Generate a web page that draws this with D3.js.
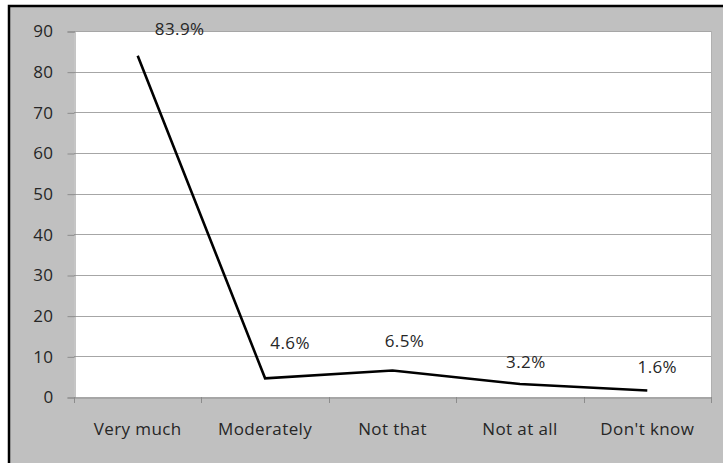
<!DOCTYPE html>
<html>
<head>
<meta charset="utf-8">
<script src="https://cdn.jsdelivr.net/npm/d3@7"></script>
<style>
  body { margin: 0; background: #fff; }
  svg { display: block; }
  svg text { font-family: "Open Sans", sans-serif; fill: #262626; letter-spacing: 0.4px; }
</style>
</head>
<body>
<div id="chart"></div>
<script>
var categories = ["Very much", "Moderately", "Not that", "Not at all", "Don't know"];
var values = [83.9, 4.6, 6.5, 3.2, 1.6];
var valueLabels = ["83.9%", "4.6%", "6.5%", "3.2%", "1.6%"];
var yTicks = [0, 10, 20, 30, 40, 50, 60, 70, 80, 90];
// hand nudges for each data label, like the original
var labelNudge = [[42, -27], [25, -35], [12, -30], [6, -22], [10, -23]];

function drawChart() {
    var width = 723, height = 463;
    var plot = {left: 74, right: 711, top: 31, bottom: 397};

    var svg = d3.select("#chart")
                .append("svg")
                .attr("width", width)
                .attr("height", height);

    // gray chart area with a black frame
    svg.append("path")
        .attr("d", "M9,470V6H730V470Z")
        .attr("fill", "rgb(192,192,192)")
        .attr("fill-opacity", 1)
        .attr("stroke", "#000")
        .attr("stroke-width", 2.5);

    svg.append("rect")
        .attr("x", plot.left).attr("y", plot.top)
        .attr("width", plot.right - plot.left)
        .attr("height", plot.bottom - plot.top)
        .attr("fill", "#ffffff");

    var x = d3.scaleBand()
              .domain(categories)
              .range([plot.left, plot.right]);

    var y = d3.scaleLinear()
              .domain([0, 90])
              .range([plot.bottom, plot.top]);

    // gridlines
    svg.append("g")
        .selectAll("line")
        .data(yTicks.filter(function(d) { return d > 0; }))
        .enter()
        .append("line")
        .attr("x1", plot.left).attr("x2", plot.right)
        .attr("y1", function(d) { return Math.round(y(d)) + 0.5; })
        .attr("y2", function(d) { return Math.round(y(d)) + 0.5; })
        .attr("stroke", "#a6a6a6");

    svg.append("line")
        .attr("x1", plot.right + 0.5).attr("x2", plot.right + 0.5)
        .attr("y1", plot.top).attr("y2", plot.bottom)
        .attr("stroke", "#b0b0b0");

    var yAxis = svg.append("g")
        .attr("transform", "translate(" + (plot.left + 0.5) + ",0.5)")
        .call(d3.axisLeft(y).tickValues(yTicks).tickSize(7).tickPadding(14));

    var xAxis = svg.append("g")
        .attr("transform", "translate(0," + (plot.bottom + 0.5) + ")")
        .call(d3.axisBottom(x).tickSize(0).tickPadding(25));

    // category boundary ticks
    svg.append("g")
        .selectAll("line")
        .data(categories.concat([null]))
        .enter()
        .append("line")
        .attr("x1", function(d, i) { return Math.round(plot.left + i * x.bandwidth()) + 0.5; })
        .attr("x2", function(d, i) { return Math.round(plot.left + i * x.bandwidth()) + 0.5; })
        .attr("y1", plot.bottom)
        .attr("y2", plot.bottom + 6)
        .attr("stroke", "#8c8c8c");

    [yAxis, xAxis].forEach(function(a) {
        a.selectAll("path, line").attr("stroke", "#8c8c8c");
        a.selectAll("text").attr("font-size", 17)
            .style("fill", "#262626")
            .style("font-family", "'Open Sans', sans-serif");
    });

    var line = d3.line()
                 .x(function(d, i) { return x(categories[i]) + x.bandwidth() / 2; })
                 .y(function(d) { return y(d); });

    svg.append("path")
        .datum(values)
        .attr("d", line)
        .attr("fill", "none")
        .attr("stroke", "#000")
        .attr("stroke-width", 2.6)
        .attr("stroke-linejoin", "miter");

    svg.append("g")
        .selectAll("text")
        .data(values)
        .enter()
        .append("text")
        .attr("x", function(d, i) { return x(categories[i]) + x.bandwidth() / 2 + labelNudge[i][0]; })
        .attr("y", function(d, i) { return y(d) + labelNudge[i][1]; })
        .attr("dy", "0.35em")
        .attr("text-anchor", "middle")
        .attr("font-size", 17)
        .text(function(d, i) { return valueLabels[i]; });
}

drawChart();
</script>
</body>
</html>
